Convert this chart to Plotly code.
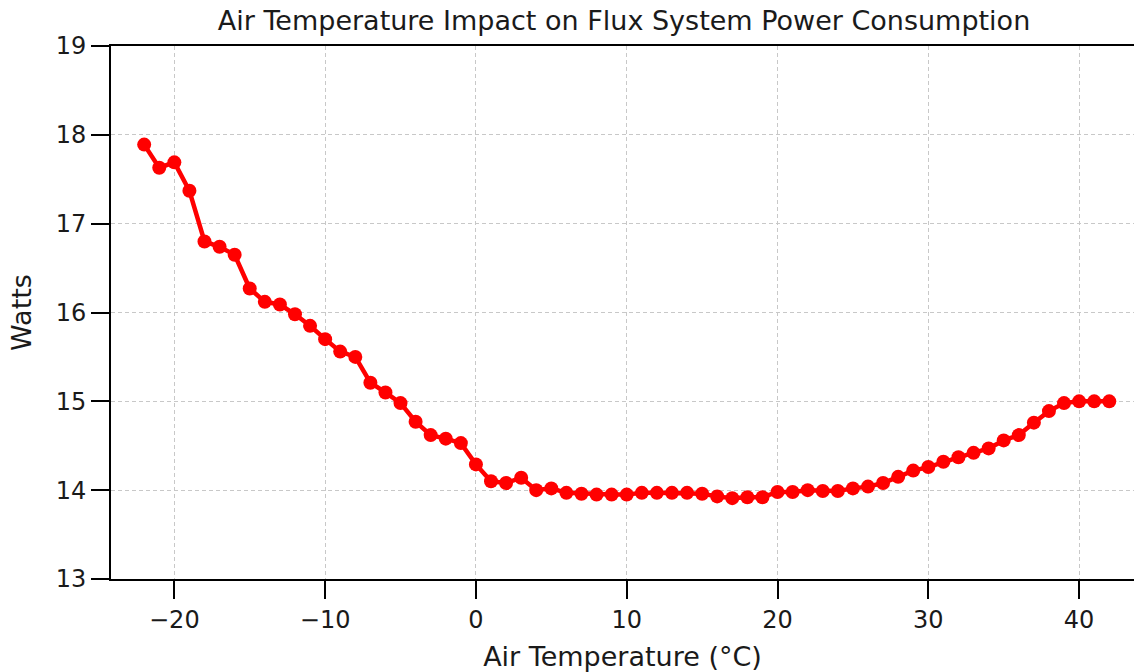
import plotly.graph_objects as go

# Air temperature (°C) and measured power draw (W)
temperature_c = list(range(-22, 43))
power_watts = [
    17.89, 17.63, 17.69, 17.37, 16.80, 16.74, 16.65, 16.27, 16.12, 16.09,
    15.98, 15.85, 15.70, 15.56, 15.50, 15.21, 15.10, 14.98, 14.77, 14.62,
    14.58, 14.53, 14.29, 14.10, 14.08, 14.14, 14.00, 14.02, 13.97, 13.96,
    13.95, 13.95, 13.95, 13.97, 13.97, 13.97, 13.97, 13.96, 13.93, 13.91,
    13.92, 13.92, 13.98, 13.98, 14.00, 13.99, 13.99, 14.02, 14.04, 14.08,
    14.15, 14.22, 14.26, 14.32, 14.37, 14.42, 14.47, 14.56, 14.62, 14.76,
    14.89, 14.98, 15.00, 15.00, 15.00,
]

x_ticks = [-20, -10, 0, 10, 20, 30, 40]
y_ticks = [13, 14, 15, 16, 17, 18, 19]

FONT = "DejaVu Sans"
INK = "#1a1a1a"

fig = go.Figure(
    go.Scatter(
        x=temperature_c,
        y=power_watts,
        mode="lines+markers",
        line=dict(color="#ff0000", width=4.5),
        marker=dict(color="#ff0000", size=14),
        showlegend=False,
    )
)

axis_common = dict(
    showline=True,
    linecolor="black",
    linewidth=2,
    ticks="outside",
    ticklen=18,
    tickwidth=2,
    tickcolor="black",
    showgrid=True,
    gridcolor="#c8c8c8",
    gridwidth=1,
    griddash="4px,3px",
    zeroline=False,
    tickfont=dict(family=FONT, size=24, color=INK),
)

fig.update_xaxes(
    **axis_common,
    range=[-24.2, 43.64],
    tickvals=x_ticks,
    mirror=True,
    title=dict(text="Air Temperature (°C)", font=dict(family=FONT, size=27, color=INK), standoff=14),
)
fig.update_yaxes(
    **axis_common,
    range=[13, 19],
    tickvals=y_ticks,
    title=dict(text="Watts", font=dict(family=FONT, size=27, color=INK), standoff=16),
)

fig.update_layout(
    width=1134,
    height=672,
    margin=dict(l=111, r=0, t=46, b=93),
    paper_bgcolor="white",
    plot_bgcolor="white",
    title=dict(
        text="Air Temperature Impact on Flux System Power Consumption",
        font=dict(family=FONT, size=27, color=INK),
        xref="paper",
        x=0.5015,
        xanchor="center",
        y=0.97,
        yanchor="middle",
    ),
)

fig.write_html("out.html")
